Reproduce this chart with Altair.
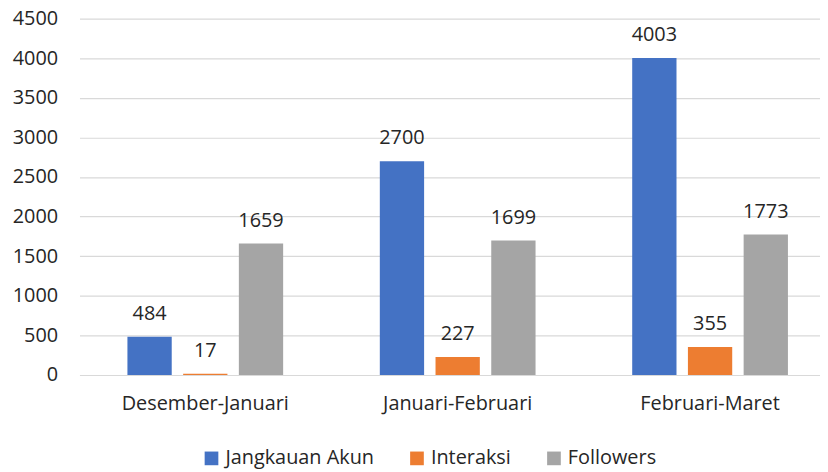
import altair as alt
import pandas as pd

periods = ["Desember-Januari", "Januari-Februari", "Februari-Maret"]
series = ["Jangkauan Akun", "Interaksi", "Followers"]
jangkauan = [484, 2700, 4003]
interaksi = [17, 227, 355]
followers = [1659, 1699, 1773]
colors = ["#4472C4", "#ED7D31", "#A5A5A5"]
y_ticks = [0, 500, 1000, 1500, 2000, 2500, 3000, 3500, 4000, 4500]

rows = []
for i, p in enumerate(periods):
    for s, vals in zip(series, [jangkauan, interaksi, followers]):
        rows.append({"Periode": p, "Seri": s, "Nilai": vals[i]})
df = pd.DataFrame(rows)

FONT = "Open Sans"
TXT = "#262626"

x = alt.X("Periode:N", sort=periods, title=None,
          scale=alt.Scale(range=[0, 762], paddingInner=0.383, paddingOuter=0.19),
          axis=alt.Axis(labelAngle=0, ticks=False, domainColor="#D9D9D9", domainWidth=1,
                        labelFontSize=20, labelFont=FONT, labelColor=TXT, labelPadding=19,
                        grid=False))
xo = alt.XOffset("Seri:N", sort=series,
                 scale=alt.Scale(paddingInner=0.205, paddingOuter=0))
y = alt.Y("Nilai:Q", title=None,
          scale=alt.Scale(domain=[0, 4500], nice=False),
          axis=alt.Axis(values=y_ticks, format="d", domain=False, ticks=False,
                        gridColor="#D9D9D9", gridWidth=1.2, labelFontSize=20,
                        labelFont=FONT, labelColor=TXT, labelPadding=22))

bars = alt.Chart(df).mark_bar().encode(
    x=x, xOffset=xo, y=y,
    color=alt.Color("Seri:N", sort=series,
                    scale=alt.Scale(domain=series, range=colors),
                    legend=alt.Legend(title=None, orient="none", direction="horizontal",
                                      legendX=123, legendY=433, symbolType="square",
                                      symbolSize=190, symbolStrokeWidth=0,
                                      labelFontSize=20, labelFont=FONT, labelColor=TXT,
                                      labelOffset=4, columnPadding=33)),
)

labels = alt.Chart(df).mark_text(baseline="alphabetic", dy=-17, fontSize=20,
                                 font=FONT, color=TXT).encode(
    x=x, xOffset=xo, y=y, text=alt.Text("Nilai:Q")
)

chart = alt.layer(bars, labels).properties(
    width=746, height=359,
    autosize=alt.AutoSizeParams(type="none"),
    padding={"left": 72, "top": 9, "right": 0, "bottom": 96},
).configure_view(stroke=None)

chart.save("out.html", embed_options={"renderer": "svg", "actions": False})
